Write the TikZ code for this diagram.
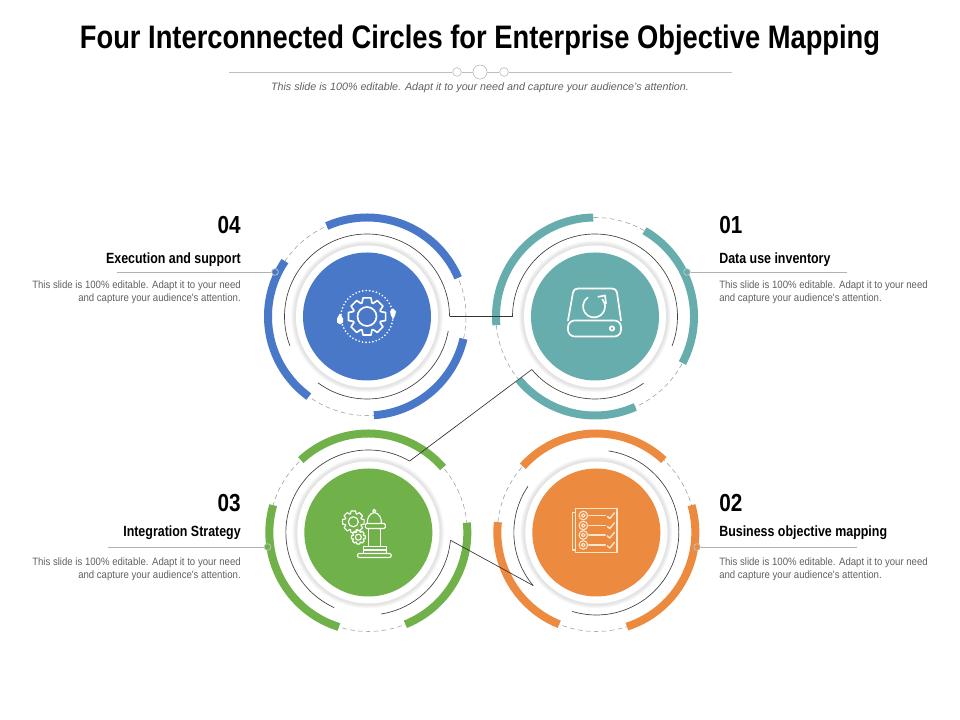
\documentclass[tikz,border=0pt]{standalone}
\usepackage{fontspec}
\setmainfont{Liberation Sans}
\newfontfamily\narrowfont[FakeStretch=0.84]{Liberation Sans}
\newfontfamily\bodyfont[FakeStretch=0.9]{Liberation Sans}
\usetikzlibrary{backgrounds,calc}
\definecolor{bluec}{HTML}{4A78C8}
\definecolor{tealc}{HTML}{68ADAD}
\definecolor{greenc}{HTML}{71B14A}
\definecolor{orangec}{HTML}{EC8A40}
\definecolor{creamc}{HTML}{FBE6CE}
\tikzset{
  disc node/.style={circle,minimum size=96pt,inner sep=0pt},
  dot node/.style={circle,minimum size=5pt,inner sep=0pt,draw=gray!45,line width=.5pt},
  hub node/.style={circle,inner sep=0pt,draw=gray!60,fill=white,line width=.4pt},
  head text/.style={font=\narrowfont\bfseries\fontsize{11.1pt}{12pt}\selectfont,inner sep=0pt},
  num text/.style={font=\narrowfont\bfseries\fontsize{18.5pt}{20pt}\selectfont,inner sep=0pt},
  body text/.style={font=\bodyfont\fontsize{8pt}{9.75pt}\selectfont,text=gray!75!black,inner sep=0pt},
  icon line/.style={line width=1.25pt,line join=round,line cap=round},
  cog/.pic={
    \draw[pic actions] (-20:.76) \foreach \t in {0,45,...,315}
      { -- (\t-20:.76) -- (\t-12:1) -- (\t+12:1) -- (\t+20:.76) } -- cycle;
  }
}
\begin{document}
\begin{tikzpicture}[x=.75pt,y=.75pt,node distance=171pt]
  \useasboundingbox (0,0) rectangle (960,720);

  \node[font=\narrowfont\bfseries\fontsize{24.4pt}{26pt}\selectfont,inner sep=0pt] (title) at (480,680) {Four Interconnected Circles for Enterprise Objective Mapping};
  \coordinate (ruleL) at (229,648);
  \coordinate (ruleR) at (732,648);
  \node[hub node,minimum size=6.5pt] (hubA) at (457,648) {};
  \node[hub node,minimum size=10.5pt] (hubB) at (480,648) {};
  \node[hub node,minimum size=6.5pt] (hubC) at (504,648) {};
  \draw[gray!50,line width=.4pt] (ruleL) -- (hubA) -- (hubB) -- (hubC) -- (ruleR);
  \node[font=\itshape\fontsize{8.05pt}{10pt}\selectfont,text=gray!75!black,inner sep=0pt] (sub) at (480,632) {This slide is 100\% editable. Adapt it to your need and capture your audience's attention.};

  \node[disc node,fill=bluec] (d4) at (367,403.5) {};
  \node[disc node,fill=tealc] (d1) [right of=d4] {};
  \node[disc node,fill=greenc,xshift=1pt,node distance=162pt] (d3) [below of=d4] {};
  \node[disc node,fill=orangec] (d2) [right of=d3] {};

  \foreach \n/\c/\thickarcs/\thinarcs in {
    d4/bluec/{114/23,-13/-86,234/146}/{0/201,-10/-126.5},
    d1/tealc/{91/185,60/-28,-66/-140.4}/{180/-21,-54/-140},
    d3/greenc/{133/41,5.7/-68,252.7/164}/{60/245.5,-81/-5.4},
    d2/orangec/{138/47,16/-72,248/174}/{146/220,81.5/-107}}{
    \begin{scope}[on background layer]
      \foreach \r/\g in {76/5,75/10,74/16,73/21}
        \fill[gray!\g] (\n) circle (\r);
      \fill[white] (\n) circle (71);
      \draw[gray!80,dash pattern=on 3.5pt off 2.5pt,line width=.4pt] (\n) circle (99);
    \end{scope}
    \foreach \a/\b in \thickarcs
      \draw[\c,line width=6pt] ($(\n)+(\a:99)$) arc (\a:\b:99);
    \foreach \a/\b in \thinarcs
      \draw[black!75,line width=.5pt] ($(\n)+(\a:82.5)$) arc (\a:\b:82.5);
  }

  % links between the rings
  \coordinate (link4) at ($(d4)+(0:82.5)$);
  \coordinate (link1) at ($(d1)+(180:82.5)$);
  \coordinate (link1b) at ($(d1)+(220:82.5)$);
  \coordinate (link3) at ($(d3)+(60:82.5)$);
  \coordinate (link3b) at ($(d3)+(-5.4:82.5)$);
  \coordinate (link2) at ($(d2)+(220:82.5)$);
  \draw[black!80,line width=.5pt] (link4) -- (link1);
  \draw[black!80,line width=.5pt] (link1b) -- (link3);
  \draw[black!80,line width=.5pt] (link3b) -- (link2);

  % labels
  \node[dot node,fill=bluec] (dot4) at (275,448) {};
  \node[dot node,fill=tealc] (dot1) at (687,448) {};
  \node[dot node,fill=greenc] (dot3) at (267.5,173) {};
  \node[dot node,fill=orangec] (dot2) at (697,173) {};
  \coordinate (end4) at (117,448);
  \coordinate (end1) at (847,448);
  \coordinate (end3) at (108,173);
  \coordinate (end2) at (857,173);
  \draw[gray!60,line width=.4pt] (end4) -- (dot4);
  \draw[gray!60,line width=.4pt] (end1) -- (dot1);
  \draw[gray!60,line width=.4pt] (end3) -- (dot3);
  \draw[gray!60,line width=.4pt] (end2) -- (dot2);

  \node[num text,anchor=east] (num4) at (241,495) {04};
  \node[head text,anchor=east] (head4) at (241,460.5) {Execution and support};
  \node[body text,anchor=east,align=right] (body4) at (241,428) {This slide is 100\% editable. Adapt it to your need\\and capture your audience's attention.};
  \node[num text,anchor=west] (num1) at (719,495) {01};
  \node[head text,anchor=west] (head1) at (719,460.5) {Data use inventory};
  \node[body text,anchor=west,align=left] (body1) at (719,428) {This slide is 100\% editable. Adapt it to your need\\and capture your audience's attention.};
  \node[num text,anchor=east] (num3) at (241,217) {03};
  \node[head text,anchor=east] (head3) at (241,187.5) {Integration Strategy};
  \node[body text,anchor=east,align=right] (body3) at (241,151) {This slide is 100\% editable. Adapt it to your need\\and capture your audience's attention.};
  \node[num text,anchor=west] (num2) at (719,217) {02};
  \node[head text,anchor=west] (head2) at (719,187.5) {Business objective mapping};
  \node[body text,anchor=west,align=left] (body2) at (719,151) {This slide is 100\% editable. Adapt it to your need\\and capture your audience's attention.};

  % icons
  \begin{scope}[shift={(d4.center)},white,icon line]
    \pic[scale=19] at (0,0) {cog};
    \draw (0,0) circle (9.5);
    \draw[line width=1.4pt,dash pattern=on 0pt off 2.6pt] (0,0) circle (26);
    \fill (-27,3) -- (-24,-2) -- (-24,-6) -- (-27,-8) -- (-30,-6) -- (-30,-2) -- cycle;
    \fill (26,8) -- (29,5) -- (28,1) -- (26,-3) -- (24,1) -- (23,5) -- cycle;
  \end{scope}
  \begin{scope}[shift={(d1.center)},white,icon line]
    \draw (-27,-4) -- (-22,24) to[out=85,in=180] (-17,28) -- (17,28) to[out=0,in=95] (22,24) -- (26,-4);
    \draw[rounded corners=5pt] (-27,-20) rectangle (26,-4);
    \draw (17,-12) circle (2.2);
    \draw (-1,10) ++(125:11) arc (125:400:11);
    \draw (3.3,19.7) -- (10,21) -- (11,13);
  \end{scope}
  \begin{scope}[shift={(d3.center)},white,icon line,line width=.85pt]
    \pic[scale=11] at (-15,10.7) {cog};
    \draw (-15,10.7) circle (5);
    \pic[scale=7] at (-10,-4.7) {cog};
    \draw (-10,-4.7) circle (3);
    \draw[rounded corners=1.5pt] (-11,-25) rectangle (23,-21);
    \draw (-5,-21) -- (-5,-14) -- (18,-14) -- (18,-21);
    \draw (-5,-17.5) -- (18,-17.5);
    \draw (0,-14) -- (0,4) (12,-14) -- (12,4);
    \draw[rounded corners=1pt] (-3,4) rectangle (17,9);
    \draw (-1,9) to[out=95,in=190] (6,20) to[out=-10,in=85] (13,9);
    \draw (6,21.5) circle (1.6);
  \end{scope}
  \begin{scope}[shift={(d2.center)},creamc,icon line,line width=.85pt]
    \draw (-21,-19.7) rectangle (20.7,23.7);
    \draw (-21,20) -- (-24,20) -- (-24,-17.5) -- (-21,-17.5);
    \foreach \y in {17,7,-2.5,-12.5}{
      \draw (-13,\y) circle (4.3);
      \draw (-13,\y) circle (1.8);
      \draw[line width=.9pt] (-7.5,\y) -- (9,\y);
      \draw[line width=1.1pt] (11,\y-1) -- (13.5,\y-3) -- (18,\y+2.5);
    }
  \end{scope}
\end{tikzpicture}
\end{document}
